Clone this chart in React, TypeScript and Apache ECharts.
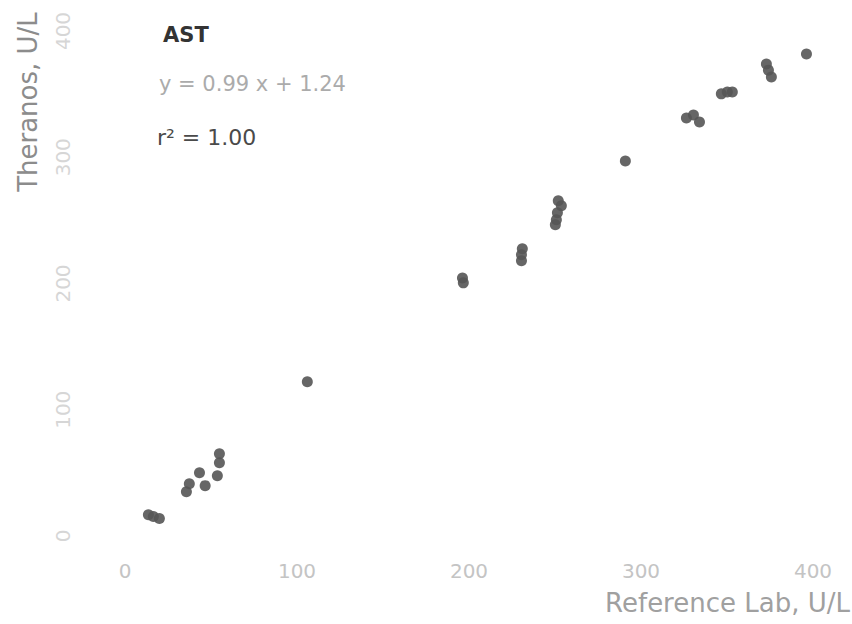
import React, { useEffect, useRef } from "react";
import * as echarts from "echarts";

const referenceLab: number[] = [
  13.6, 16.5, 20.0, 35.7, 37.4, 43.3, 46.6, 53.7, 54.9, 54.9, 106.0, 196.2, 196.7,
  231.0, 230.5, 230.5, 251.9, 253.7, 251.4, 250.8, 250.2, 290.9, 326.4, 330.5,
  334.0, 346.7, 350.2, 353.1, 372.9, 374.1, 375.8, 396.2,
];
const theranos: number[] = [
  16.9, 15.4, 13.8, 35.1, 41.4, 50.1, 39.9, 47.8, 58.1, 65.2, 122.2, 204.4, 200.5,
  227.5, 222.8, 218.0, 265.5, 261.6, 256.0, 250.5, 246.5, 297.0, 331.1, 333.5,
  328.0, 350.2, 351.7, 351.7, 373.8, 369.0, 363.5, 381.7,
];
const tickValues: number[] = [0, 100, 200, 300, 400];
const titleText = "AST";
const equationText = "y = 0.99 x + 1.24";
const r2Text = "r² = 1.00";
const xTitle = "Reference Lab, U/L";
const yTitle = "Theranos, U/L";

const FONT = "'DejaVu Sans', 'Liberation Sans', sans-serif";

export default function App() {
  const ref = useRef<HTMLDivElement>(null);
  useEffect(() => {
    document.body.style.margin = "0";
    if (!ref.current) return;
    const chart = echarts.init(ref.current, undefined, { renderer: "svg" });
    const data = referenceLab.map((x, i) => [x, theranos[i]]);
    chart.setOption({
      animation: false,
      backgroundColor: "#ffffff",
      grid: { left: 125, right: 39, top: 31, bottom: 88 },
      xAxis: {
        type: "value",
        min: tickValues[0],
        max: tickValues[tickValues.length - 1],
        interval: 100,
        axisLine: { show: false },
        axisTick: { show: false },
        splitLine: { show: false },
        axisLabel: {
          color: "#c4c4c4",
          fontFamily: FONT,
          fontSize: 20,
          margin: 25,
        },
      },
      yAxis: {
        type: "value",
        min: tickValues[0],
        max: tickValues[tickValues.length - 1],
        interval: 100,
        axisLine: { show: false },
        axisTick: { show: false },
        splitLine: { show: false },
        axisLabel: {
          color: "#d6d6d6",
          fontFamily: FONT,
          fontSize: 20,
          rotate: 90,
          margin: 52,
        },
      },
      graphic: [
        {
          type: "text",
          left: 163,
          top: 24,
          style: {
            text: titleText,
            font: `bold 21px ${FONT}`,
            fill: "#333333",
          },
        },
        {
          type: "text",
          left: 159,
          top: 73,
          style: {
            text: equationText,
            font: `21px ${FONT}`,
            fill: "#ababab",
          },
        },
        {
          type: "text",
          left: 157,
          top: 126,
          style: {
            text: r2Text,
            font: `22px ${FONT}`,
            fill: "#4a4a4a",
          },
        },
        {
          type: "text",
          x: 850,
          y: 603,
          style: {
            text: xTitle,
            font: `26px ${FONT}`,
            fill: "#a0a0a0",
            align: "right",
            verticalAlign: "middle",
          },
        },
        {
          type: "text",
          x: 28,
          y: 102,
          rotation: Math.PI / 2,
          style: {
            text: yTitle,
            font: `26px ${FONT}`,
            fill: "#8c8c8c",
            align: "center",
            verticalAlign: "middle",
          },
        },
      ],
      series: [
        {
          type: "scatter",
          data,
          symbol: "circle",
          symbolSize: 11,
          itemStyle: { color: "#555555", opacity: 0.9 },
        },
      ],
    });
    return () => chart.dispose();
  }, []);
  return <div ref={ref} style={{ width: 852, height: 624 }} />;
}
